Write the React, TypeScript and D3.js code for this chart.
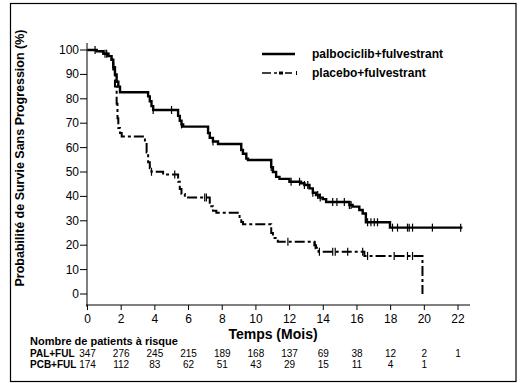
import React from "react";
import * as d3 from "d3";

const xTicks = [0, 2, 4, 6, 8, 10, 12, 14, 16, 18, 20, 22];
const yTicks = [0, 10, 20, 30, 40, 50, 60, 70, 80, 90, 100];

const palTimes = [0, 0.54, 0.94, 1.24, 1.43, 1.53, 1.63, 1.73, 1.83, 1.93, 3.6, 3.7, 3.8, 3.9, 5.38, 5.48, 5.58, 5.68, 7.16, 7.26, 7.45, 7.75, 9.13, 9.23, 9.43, 9.53, 10.91, 11.01, 11.2, 11.4, 11.99, 12.68, 12.88, 13.18, 13.38, 13.57, 13.77, 13.97, 14.17, 15.55, 15.74, 16.14, 16.34, 16.53, 17.96, 22.26];
const palSurv = [100, 99.5, 98.5, 97.5, 96, 93, 90, 87, 85, 82.7, 81, 79, 77, 75.4, 73, 71, 69.5, 68.6, 66, 64, 62.5, 61.5, 59, 57.5, 55.5, 54.9, 52, 50, 48, 47.2, 46, 45.4, 44.7, 43.3, 41.5, 40.6, 39.5, 38.9, 37.7, 36.5, 35.8, 34.4, 33, 29.4, 27.2, 27.2];
const palCensor = [0.45, 1.04, 3.9, 4.99, 5.58, 7.45, 10.91, 12.09, 12.59, 12.88, 13.08, 13.38, 13.67, 13.82, 14.56, 14.81, 15.25, 15.55, 15.65, 16.63, 16.83, 17.03, 17.22, 18.11, 18.41, 19.0, 19.1, 19.3, 20.48, 22.16];

const plcTimes = [0, 0.54, 0.94, 1.24, 1.43, 1.53, 1.63, 1.73, 1.78, 1.83, 1.93, 2.03, 3.41, 3.51, 3.6, 3.7, 3.8, 4.49, 5.38, 5.48, 5.58, 5.78, 7.26, 7.45, 7.65, 9.03, 9.13, 9.23, 10.91, 11.01, 11.3, 13.47, 13.57, 13.72, 16.44, 19.89, 19.89];
const plcSurv = [100, 99.5, 98.5, 97.5, 96, 92, 85, 78, 72, 68, 66, 64.5, 62, 58, 54, 51.5, 50.1, 49, 46, 43, 41, 39.6, 36, 34.1, 33.3, 31, 29.5, 28.6, 25, 23, 21.4, 20, 19, 17.3, 15.6, 0, 0];
const plcCensor = [1.14, 3.8, 5.18, 6.96, 7.06, 11.9, 13.52, 13.77, 14.56, 14.71, 15.45, 16.34, 16.63, 18.21, 19.0, 19.3];

const riskPal = ["347", "276", "245", "215", "189", "168", "137", "69", "38", "12", "2", "1"];
const riskPcb = ["174", "112", "83", "62", "51", "43", "29", "15", "11", "4", "1"];

const FONT = "'Liberation Sans', Arial, sans-serif";

export default function App() {
  const x = d3.scaleLinear().domain([0, 22]).range([87.5, 458]);
  const y = d3.scaleLinear().domain([0, 100]).range([294, 50]);

  const line = d3
    .line<[number, number]>()
    .x((d) => x(d[0]))
    .y((d) => y(d[1]))
    .curve(d3.curveStepAfter);

  const palData: [number, number][] = palTimes.map((t, i) => [t, palSurv[i]]);
  const plcData: [number, number][] = plcTimes.map((t, i) => [t, plcSurv[i]]);

  const survAt = (times: number[], surv: number[], t: number) => {
    let v = surv[0];
    for (let i = 0; i < times.length; i++) if (times[i] <= t) v = surv[i];
    return v;
  };

  const axisY = 305;

  return (
    <svg width={527} height={383} style={{ position: "absolute", left: 0, top: 0, background: "#fff" }} fontFamily={FONT}>
      <rect x={10.5} y={3.5} width={505.5} height={378} fill="none" stroke="#000" strokeWidth={1.2} />

      {/* Y axis */}
      <line x1={87} x2={87} y1={43} y2={axisY + 2} stroke="#000" strokeWidth={1} />
      {yTicks.map((v) => (
        <g key={v}>
          <line x1={80} x2={87} y1={y(v)} y2={y(v)} stroke="#000" />
          <text x={79} y={y(v) + 4} textAnchor="end" fontSize={12}>{v}</text>
        </g>
      ))}
      <text transform="translate(24,158) rotate(-90)" textAnchor="middle" fontSize={12.5} fontWeight="bold">
        Probabilité de Survie Sans Progression (%)
      </text>

      {/* X axis */}
      <line x1={86} x2={470} y1={axisY} y2={axisY} stroke="#000" strokeWidth={1} />
      {xTicks.map((v) => (
        <g key={v}>
          <line x1={x(v)} x2={x(v)} y1={axisY} y2={axisY + 5} stroke="#000" />
          <text x={x(v)} y={323} textAnchor="middle" fontSize={12}>{v}</text>
        </g>
      ))}
      <text x={273} y={339} textAnchor="middle" fontSize={14} fontWeight="bold">Temps (Mois)</text>

      {/* Curves */}
      <path d={line(palData) || ""} fill="none" stroke="#000" strokeWidth={2.4} />
      <path d={line(plcData) || ""} fill="none" stroke="#000" strokeWidth={2} strokeDasharray="10,3,3,3" />
      {palCensor.map((t, i) => {
        const yy = y(survAt(palTimes, palSurv, t));
        return <line key={"pc" + i} x1={x(t)} x2={x(t)} y1={yy - 4} y2={yy + 4} stroke="#000" strokeWidth={1.2} />;
      })}
      {plcCensor.map((t, i) => {
        const yy = y(survAt(plcTimes, plcSurv, t));
        return <line key={"qc" + i} x1={x(t)} x2={x(t)} y1={yy - 4} y2={yy + 4} stroke="#000" strokeWidth={1.2} />;
      })}

      {/* Legend */}
      <line x1={262} x2={295} y1={54} y2={54} stroke="#000" strokeWidth={2.4} />
      <text x={312} y={58} fontSize={12} fontWeight="bold">palbociclib+fulvestrant</text>
      <line x1={262} x2={271} y1={73} y2={73} stroke="#000" strokeWidth={1.5} />
      <line x1={274} x2={277} y1={73} y2={73} stroke="#000" strokeWidth={1.5} />
      <rect x={279} y={71.5} width={4} height={3} fill="#000" />
      <line x1={285} x2={292} y1={73} y2={73} stroke="#000" strokeWidth={1.5} />
      <line x1={296.5} x2={296.5} y1={71} y2={75} stroke="#000" strokeWidth={1} />
      <text x={312} y={77} fontSize={12} fontWeight="bold">placebo+fulvestrant</text>

      {/* Risk table */}
      <text x={30} y={345} fontSize={11} fontWeight="bold">Nombre de patients à risque</text>
      <text x={30} y={357} fontSize={10} fontWeight="bold">PAL+FUL</text>
      <text x={30} y={368} fontSize={10} fontWeight="bold">PCB+FUL</text>
      {riskPal.map((v, i) => (
        <text key={"rp" + i} x={x(xTicks[i])} y={357} textAnchor="middle" fontSize={10}>{v}</text>
      ))}
      {riskPcb.map((v, i) => (
        <text key={"rq" + i} x={x(xTicks[i])} y={368} textAnchor="middle" fontSize={10}>{v}</text>
      ))}
    </svg>
  );
}
